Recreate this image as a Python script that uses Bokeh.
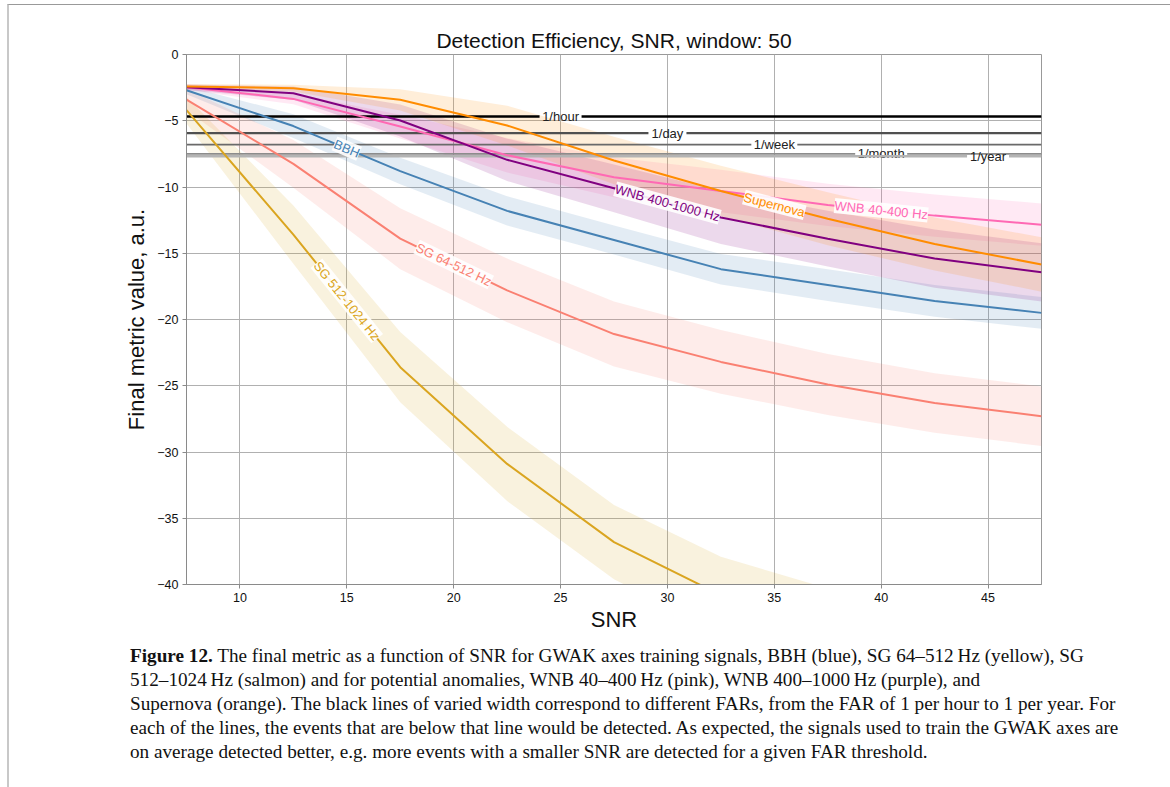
import math

from bokeh.core.properties import value
from bokeh.embed import file_html
from bokeh.layouts import column
from bokeh.models import Div, FixedTicker, Range1d
from bokeh.plotting import figure
from bokeh.resources import INLINE

# ---------------------------------------------------------------- data
snr = [7.5, 12.5, 17.5, 22.5, 27.5, 32.5, 37.5, 42.5, 47.5]

bbh = [-2.7, -5.4, -8.8, -11.8, -14.0, -16.2, -17.4, -18.6, -19.5]
bbh_err = [0.3, 0.9, 1.0, 1.1, 1.1, 1.15, 1.2, 1.2, 1.2]

sg_64_512 = [-3.4, -8.25, -13.9, -17.8, -21.1, -23.2, -24.9, -26.3, -27.3]
sg_64_512_err = [0.8, 1.8, 2.3, 2.4, 2.45, 2.4, 2.3, 2.25, 2.25]

sg_512_1024 = [-4.2, -13.6, -23.6, -30.9, -36.8, -40.8, -43.3, -45.0, -46.4]
sg_512_1024_err = [1.0, 2.2, 2.65, 2.8, 2.8, 2.9, 3.0, 3.0, 3.0]

wnb_40_400 = [-2.47, -3.35, -5.44, -7.6, -9.27, -10.3, -11.35, -12.16, -12.84]
wnb_40_400_err = [0.2, 0.4, 0.9, 1.3, 1.5, 1.6, 1.6, 1.6, 1.6]

wnb_400_1000 = [-2.47, -2.92, -4.98, -7.95, -10.1, -12.3, -13.9, -15.4, -16.44]
wnb_400_1000_err = [0.2, 0.5, 1.2, 1.6, 1.8, 2.0, 2.1, 2.2, 2.2]

supernova = [-2.42, -2.54, -3.42, -5.36, -8.0, -10.3, -12.4, -14.3, -15.85]
supernova_err = [0.2, 0.25, 0.8, 1.5, 1.8, 1.9, 2.0, 2.0, 2.05]

series_names = ["BBH", "SG 64-512 Hz", "SG 512-1024 Hz",
                "WNB 40-400 Hz", "WNB 400-1000 Hz", "Supernova"]
series_values = [bbh, sg_64_512, sg_512_1024, wnb_40_400, wnb_400_1000, supernova]
series_errors = [bbh_err, sg_64_512_err, sg_512_1024_err,
                 wnb_40_400_err, wnb_400_1000_err, supernova_err]
series_colors = ["#4682b4", "#fa8072", "#daa520", "#ff69b4", "#800080", "#ff8c00"]
series_label_snr = [15.0, 20.0, 15.0, 40.0, 30.0, 35.0]

far_names = ["1/hour", "1/day", "1/week", "1/month", "1/year"]
far_values = [-4.68, -5.94, -6.8, -7.5, -7.68]
far_label_snr = [25.0, 30.0, 35.0, 40.0, 45.0]
far_widths = [2.6, 2.2, 1.8, 1.6, 2.6]
far_colors = ["#000000", "#505050", "#6a6a6a", "#8c8c8c", "#b4b4b4"]
far_gap_px = [21, 19, 23, 26, 21]

x_ticks = [10, 15, 20, 25, 30, 35, 40, 45]
x_tick_labels = ["10", "15", "20", "25", "30", "35", "40", "45"]
y_ticks = [0, -5, -10, -15, -20, -25, -30, -35, -40]
y_tick_labels = ["0", "\u22125", "\u221210", "\u221215", "\u221220",
                 "\u221225", "\u221230", "\u221235", "\u221240"]

# ---------------------------------------------------------------- figure
X_MIN, X_MAX = 7.5, 47.5
Y_MIN, Y_MAX = -40.0, 0.0
FRAME_W, FRAME_H = 855, 530
B_LEFT, B_RIGHT, B_TOP, B_BOTTOM = 177, 122, 49, 58
PX_X = FRAME_W / (X_MAX - X_MIN)
PX_Y = FRAME_H / (Y_MAX - Y_MIN)

SANS = "Liberation Sans"

p = figure(
    width=B_LEFT + FRAME_W + B_RIGHT,
    height=B_TOP + FRAME_H + B_BOTTOM,
    x_range=Range1d(X_MIN, X_MAX),
    y_range=Range1d(Y_MIN, Y_MAX),
    min_border_left=B_LEFT, min_border_right=B_RIGHT,
    min_border_top=B_TOP, min_border_bottom=B_BOTTOM,
    output_backend="svg", toolbar_location=None,
)

p.title.text = "Detection Efficiency, SNR, window: 50"
p.title.align = "center"
p.title.text_font = SANS
p.title.text_font_size = "21px"
p.title.text_font_style = "normal"
p.title.text_color = "#111111"
p.title.standoff = 5

p.xaxis.axis_label = "SNR"
p.yaxis.axis_label = "Final metric value, a.u."
p.xaxis.ticker = FixedTicker(ticks=x_ticks)
p.yaxis.ticker = FixedTicker(ticks=y_ticks)
p.xaxis.major_label_overrides = dict(zip(x_ticks, x_tick_labels))
p.yaxis.major_label_overrides = dict(zip(y_ticks, y_tick_labels))

for ax in (p.xaxis, p.yaxis):
    ax.axis_line_color = "#8a8a8a"
    ax.major_tick_line_color = "#8a8a8a"
    ax.minor_tick_line_color = None
    ax.major_tick_in = 0
    ax.major_tick_out = 4
    ax.major_label_text_font = SANS
    ax.major_label_text_font_size = "12.5px"
    ax.major_label_text_color = "#111111"
    ax.axis_label_text_font = SANS
    ax.axis_label_text_font_size = "22px"
    ax.axis_label_text_font_style = "normal"
    ax.axis_label_text_color = "#111111"
p.xaxis.axis_label_standoff = 2
p.yaxis.axis_label_standoff = 5
p.xaxis.major_label_standoff = 4
p.yaxis.major_label_standoff = 4

p.grid.grid_line_color = "#b0b0b0"
p.grid.grid_line_width = 1
p.outline_line_color = "#999999"
p.background_fill_color = "white"
p.border_fill_color = "white"

# uncertainty bands
for vals, errs, col in zip(series_values, series_errors, series_colors):
    lower = [v - e for v, e in zip(vals, errs)]
    upper = [v + e for v, e in zip(vals, errs)]
    p.varea(x=snr, y1=lower, y2=upper, fill_color=col, fill_alpha=0.15)

# false-alarm-rate thresholds, broken around their inline labels
for name, yv, lx, lw, col, gap in zip(far_names, far_values, far_label_snr,
                                      far_widths, far_colors, far_gap_px):
    half = gap / PX_X
    p.line([X_MIN, lx - half], [yv, yv], line_color=col, line_width=lw)
    p.line([lx + half, X_MAX], [yv, yv], line_color=col, line_width=lw)
    p.text(x=[lx], y=[yv], text=[name], text_color="#222222",
           text_font=value(SANS), text_font_size="13px",
           text_align="center", text_baseline="middle")

# mean curves
for vals, col in zip(series_values, series_colors):
    p.line(snr, vals, line_color=col, line_width=2)


def interp(xs, ys, x):
    for i in range(len(xs) - 1):
        if xs[i] <= x <= xs[i + 1]:
            t = (x - xs[i]) / (xs[i + 1] - xs[i])
            return ys[i] + t * (ys[i + 1] - ys[i]), (ys[i + 1] - ys[i]) / (xs[i + 1] - xs[i])
    return ys[-1], 0.0


# inline curve labels, rotated along the curve
for name, vals, col, lx in zip(series_names, series_values, series_colors, series_label_snr):
    ly, slope = interp(snr, vals, lx)
    ang = math.atan(slope * PX_Y / PX_X)
    p.text(x=[lx], y=[ly], text=[name], angle=[ang], text_color=col,
           text_font=value(SANS), text_font_size="13px",
           text_align="center", text_baseline="middle",
           background_fill_color="white", background_fill_alpha=0.9)

# ---------------------------------------------------------------- caption
caption_html = (
    "<div style=\"font-family:'Liberation Serif',serif;font-size:19.2px;"
    "line-height:24px;color:#111;white-space:nowrap;padding-left:116px;margin-top:-3px\">"
    "<b>Figure 12.</b> The final metric as a function of SNR for GWAK axes training signals, "
    "BBH (blue), SG 64\u2013512\u2009Hz (yellow), SG<br>"
    "512\u20131024\u2009Hz (salmon) and for potential anomalies, WNB 40\u2013400\u2009Hz (pink), "
    "WNB 400\u20131000\u2009Hz (purple), and<br>"
    "Supernova (orange). The black lines of varied width correspond to different FARs, "
    "from the FAR of 1 per hour to 1 per year. For<br>"
    "each of the lines, the events that are below that line would be detected. "
    "As expected, the signals used to train the GWAK axes are<br>"
    "on average detected better, e.g. more events with a smaller SNR are detected "
    "for a given FAR threshold."
    "</div>"
)
caption = Div(text=caption_html, width=B_LEFT + FRAME_W + B_RIGHT, height=145)

page = column(
    p, caption,
    margin=(4, 0, 0, 7),
    styles={
        "border-top": "1px solid #999999",
        "border-left": "2px solid #c8c8c8",
        "border-right": "2px solid #c8c8c8",
    },
)

open("out.html", "w").write(file_html(page, INLINE))
